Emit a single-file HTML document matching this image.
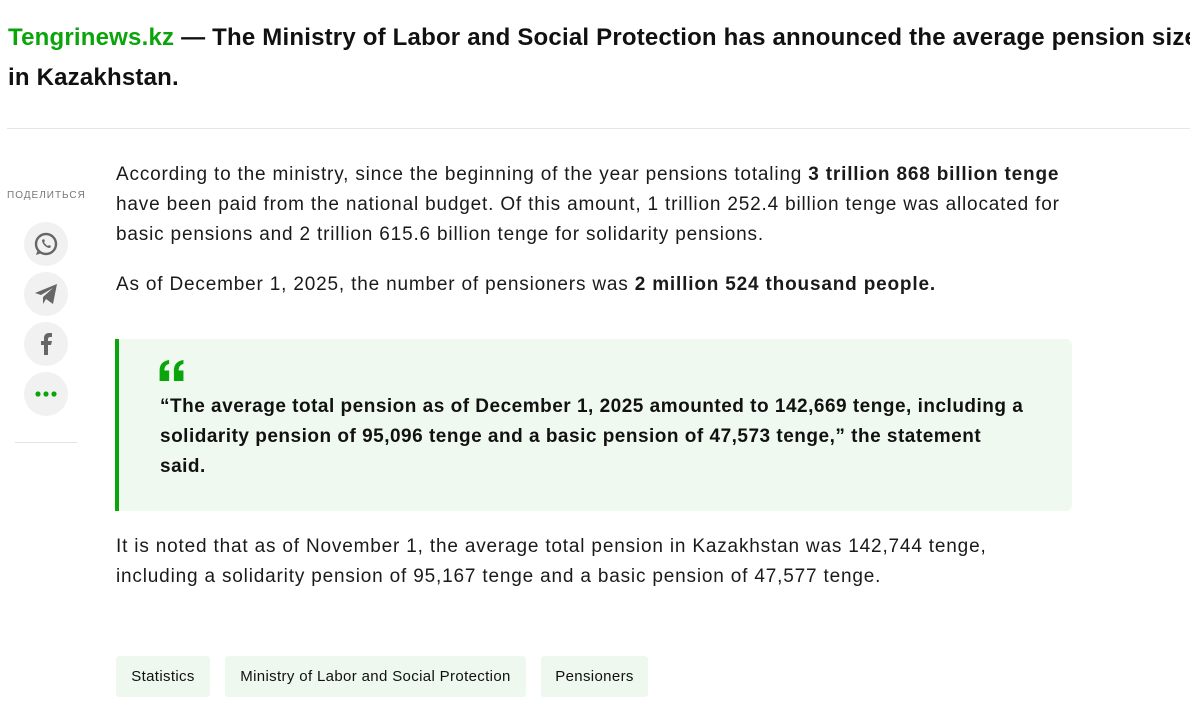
<!DOCTYPE html>
<html><head><meta charset="utf-8"><style>
body{margin:0;width:1190px;height:718px;overflow:hidden;background:#fff;font-family:"Liberation Sans",Arial,sans-serif;color:#111;position:relative}
.t{position:absolute;left:8px;font-size:24px;font-weight:bold;white-space:nowrap;line-height:40px;letter-spacing:0.2px}
.hr{position:absolute;left:7px;top:128px;width:1183px;height:1px;background:#e6e6e6}
.p{position:absolute;left:116px;font-size:19px;letter-spacing:0.82px;line-height:30px;white-space:nowrap;color:#1a1a1a}
.share{position:absolute;left:7px;top:190px;font-size:10px;color:#777;letter-spacing:1px}
.ic{position:absolute;left:24px;width:44px;height:44px;border-radius:50%;background:#f1f1f1;display:flex;align-items:center;justify-content:center}
.q{position:absolute;left:115px;top:339px;width:957px;height:172px;background:#f0f9f0;border-radius:0 6px 6px 0}
.q:before{content:"";position:absolute;left:0;top:0;bottom:0;width:4px;background:#0aa50a}
.qt{position:absolute;left:160px;font-size:19px;letter-spacing:0.5px;font-weight:bold;line-height:30px;white-space:nowrap}
.tag{position:absolute;top:656px;height:41px;line-height:42px;background:#eef8ee;font-size:15px;letter-spacing:0.35px;text-align:center;border-radius:3px}
</style></head><body>
<div class="t" style="top:18px"><span style="color:#0aa50a">Tengrinews.kz</span> — The Ministry of Labor and Social Protection has announced the average pension size</div>
<div class="t" style="top:58px">in Kazakhstan.</div>
<div class="hr"></div>
<div class="share">ПОДЕЛИТЬСЯ</div>
<div class="ic" style="top:222px"><svg width="26" height="26" viewBox="0 0 26 26"><circle cx="13" cy="13" r="10" fill="none" stroke="#666" stroke-width="2.4"/><path d="M3 24l2-6 4 4z" fill="#666"/><path d="M9 9c0 4 4 8 8 8l1-2-2-1-1 1c-2-1-3-2-4-4l1-1-1-2z" fill="#666"/></svg></div>
<div class="ic" style="top:272px"><svg width="26" height="26" viewBox="0 0 26 26"><path d="M2 12L24 3 20 23 13 18 10 23 10 16 20 7 8 14z" fill="#666"/></svg></div>
<div class="ic" style="top:322px"><svg width="26" height="26" viewBox="0 0 26 26"><path d="M11 24V14H8v-4h3V7c0-3 2-5 5-5h3v4h-2c-1 0-2 1-2 2v2h4l-1 4h-3v10z" fill="#666"/></svg></div>
<div class="ic" style="top:372px"><svg width="22" height="6"><circle cx="3" cy="3" r="2.6" fill="#0aa50a"/><circle cx="11" cy="3" r="2.6" fill="#0aa50a"/><circle cx="19" cy="3" r="2.6" fill="#0aa50a"/></svg></div>
<div style="position:absolute;left:15px;top:442px;width:62px;height:1px;background:#e3e3e3"></div>
<div class="p" style="top:160px">According to the ministry, since the beginning of the year pensions totaling <b>3 trillion 868 billion tenge</b><br>have been paid from the national budget. Of this amount, 1 trillion 252.4 billion tenge was allocated for<br>basic pensions and 2 trillion 615.6 billion tenge for solidarity pensions.</div>
<div class="p" style="top:270px">As of December 1, 2025, the number of pensioners was <b>2 million 524 thousand people.</b></div>
<div class="q"></div>
<svg style="position:absolute;left:159px;top:360px" width="26" height="21" viewBox="0 0 26 22"><path d="M0 22V11C0 5 3 1 10 0v4C6 5 5 8 5 11h5v11zM15 22V11c0-6 3-10 10-11v4c-4 1-5 4-5 7h5v11z" fill="#0aa50a"/></svg>
<div class="qt" style="top:392px">“The average total pension as of December 1, 2025 amounted to 142,669 tenge, including a<br>solidarity pension of 95,096 tenge and a basic pension of 47,573 tenge,” the statement<br>said.</div>
<div class="p" style="top:532px">It is noted that as of November 1, the average total pension in Kazakhstan was 142,744 tenge,<br>including a solidarity pension of 95,167 tenge and a basic pension of 47,577 tenge.</div>
<div class="tag" style="left:116px;width:94px">Statistics</div>
<div class="tag" style="left:225px;width:301px">Ministry of Labor and Social Protection</div>
<div class="tag" style="left:541px;width:107px">Pensioners</div>
</body></html>
